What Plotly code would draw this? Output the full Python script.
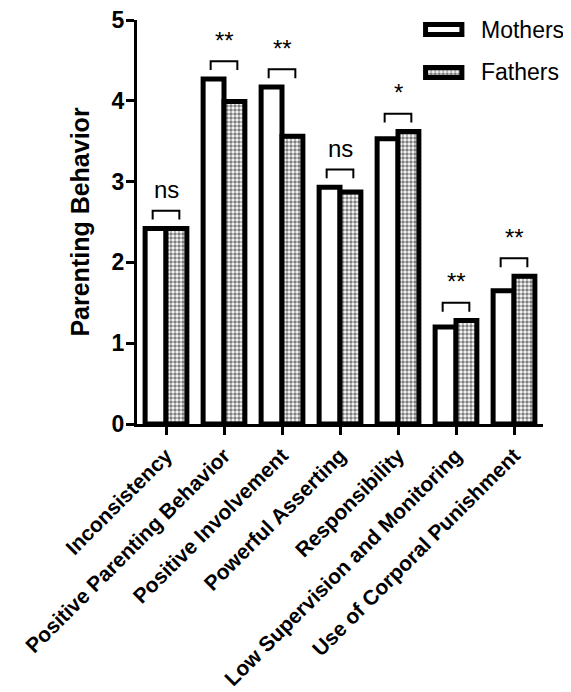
import plotly.graph_objects as go

categories = ["Inconsistency", "Positive Parenting Behavior", "Positive Involvement",
              "Powerful Asserting", "Responsibility", "Low Supervision and Monitoring",
              "Use of Corporal Punishment"]
mothers = [2.42, 4.27, 4.17, 2.93, 3.53, 1.20, 1.65]
fathers = [2.42, 3.99, 3.56, 2.87, 3.62, 1.28, 1.83]
signif = ["ns", "**", "**", "ns", "*", "**", "**"]
y_ticks = [0, 1, 2, 3, 4, 5]
series_names = ["Mothers", "Fathers"]

FONT = "Liberation Sans, Arial, sans-serif"
LINE_W = 5

fig = go.Figure()
fig.add_trace(go.Bar(
    x=categories, y=mothers, name=series_names[0], showlegend=False,
    marker=dict(color="white", line=dict(color="black", width=LINE_W)),
))
fig.add_trace(go.Bar(
    x=categories, y=fathers, name=series_names[1], showlegend=False,
    marker=dict(color="white", line=dict(color="black", width=LINE_W),
                pattern=dict(shape=".", fgcolor="black", bgcolor="white",
                             size=4, solidity=0.6)),
))

# legend swatches drawn as bars on a small auxiliary axis pair
fig.add_trace(go.Bar(
    x=[1, 1], y=series_names, orientation="h", base=0, width=0.23,
    xaxis="x2", yaxis="y2", showlegend=False, hoverinfo="skip",
    marker=dict(color="white", line=dict(color="black", width=LINE_W),
                pattern=dict(shape=["", "."], fgcolor="black", bgcolor="white",
                             size=4, solidity=0.6)),
))
for name in series_names:
    fig.add_annotation(x=0.843, y=name, xref="paper", yref="y2", text=name,
                       showarrow=False, xanchor="left", yanchor="middle",
                       font=dict(family=FONT, size=23, color="black"))

off = 0.23
for i, (m, f, s) in enumerate(zip(mothers, fathers, signif)):
    top = max(m, f) + 0.22
    fig.add_shape(type="path",
                  path=f"M {i - off} {top - 0.11} L {i - off} {top} L {i + off} {top} L {i + off} {top - 0.11}",
                  xref="x", yref="y", line=dict(color="black", width=2))
    fig.add_annotation(x=i, y=top + 0.07, text=s, showarrow=False,
                       xref="x", yref="y", yanchor="bottom",
                       font=dict(family=FONT, size=24, color="black"))

fig.update_layout(
    width=563, height=684,
    margin=dict(l=129, r=28, t=12, b=268),
    paper_bgcolor="white", plot_bgcolor="white",
    barmode="group", bargap=0.28, bargroupgap=0,
    font=dict(family=FONT, color="black"),
    showlegend=False,
    xaxis=dict(
        range=[-0.5, 6.5], showline=True, linecolor="black", linewidth=3,
        ticks="outside", ticklen=8, tickwidth=3, tickcolor="black",
        tickangle=-45, tickfont=dict(family=FONT, size=21, color="black", weight="bold"),
        showgrid=False, zeroline=False, automargin=False, ticklabeloverflow="allow",
    ),
    yaxis=dict(
        range=[0, 5], tickvals=y_ticks, showline=True, linecolor="black", linewidth=3,
        ticks="outside", ticklen=8, tickwidth=3, tickcolor="black",
        tickfont=dict(family=FONT, size=23, color="black", weight="bold"),
        ticklabelstandoff=-3, ticklabeloverflow="allow",
        title=dict(text="Parenting Behavior", standoff=15,
                   font=dict(family=FONT, size=25, color="black", weight="bold")),
        showgrid=False, zeroline=False, automargin=False,
    ),
    xaxis2=dict(domain=[0.700, 0.811], range=[-0.12, 1.12], visible=False,
                fixedrange=True),
    yaxis2=dict(domain=[0.80, 1.0], anchor="x2", visible=False, range=[-0.659, 1.221],
                categoryorder="array", categoryarray=series_names[::-1],
                fixedrange=True),
)

fig.write_html("out.html")
